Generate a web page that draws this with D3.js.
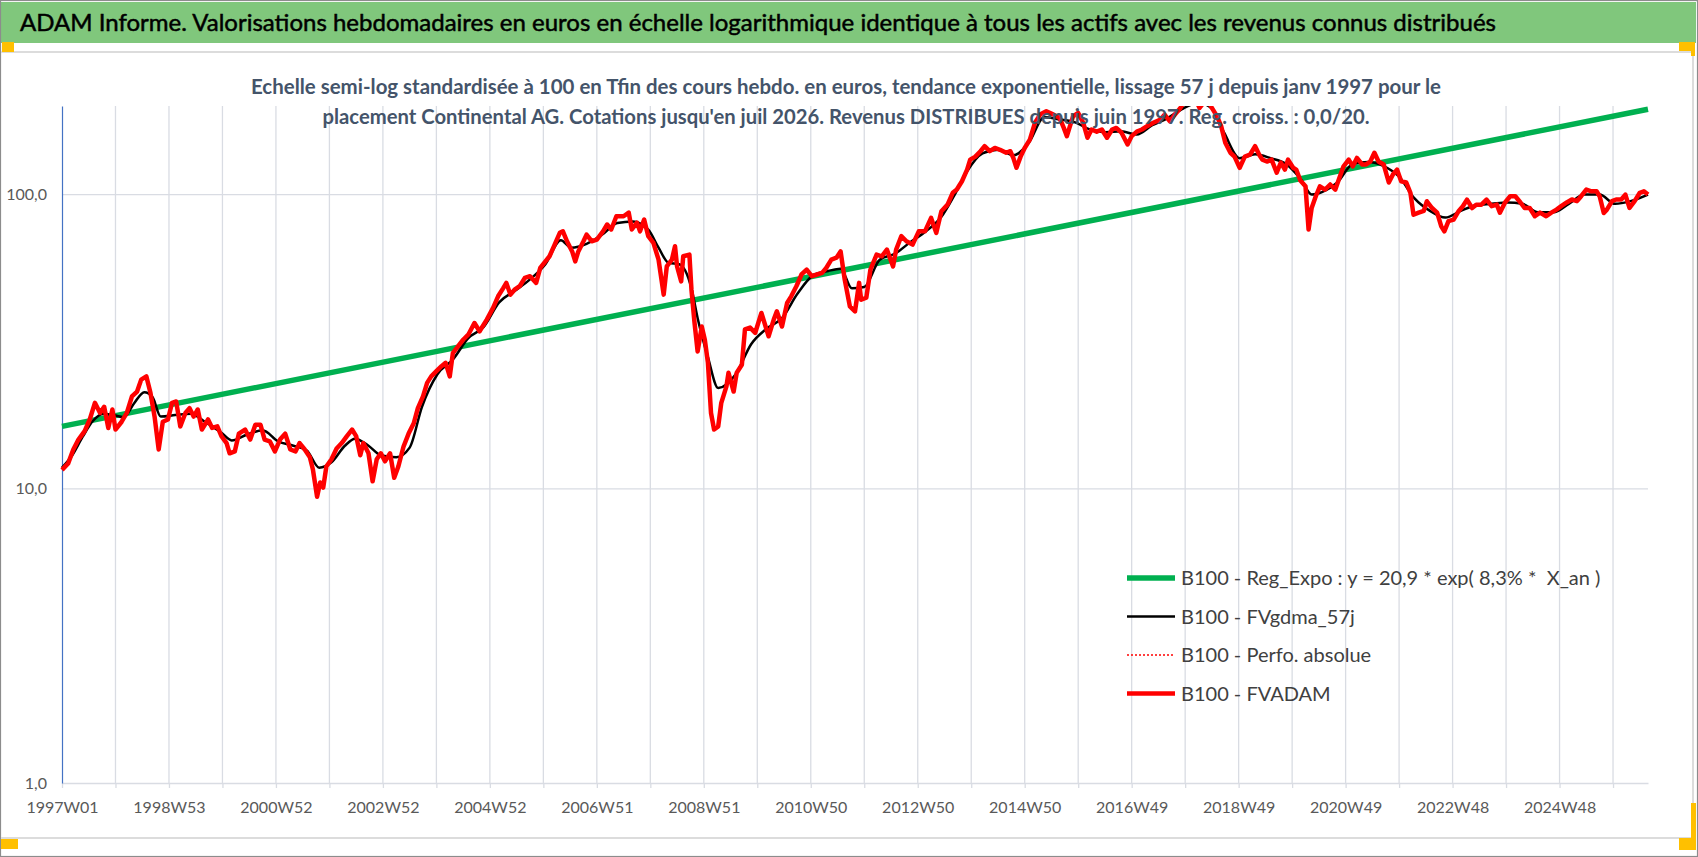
<!DOCTYPE html>
<html>
<head>
<meta charset="utf-8">
<script src="https://cdn.jsdelivr.net/npm/d3@7"></script>
<style>
  html, body { margin: 0; padding: 0; background: #fff; }
  svg { display: block; }
  text { font-family: Lato, "Open Sans", "DejaVu Sans", sans-serif; }
</style>
</head>
<body>
<svg id="chart" width="1698" height="857"></svg>
<script>
// ---------------- DATA ----------------
const titleText = "ADAM Informe. Valorisations hebdomadaires en euros en échelle logarithmique identique à tous les actifs avec les revenus connus distribués";
const subtitleLines = [
  "Echelle semi-log standardisée à 100 en Tfin des cours hebdo. en euros, tendance exponentielle, lissage 57 j depuis janv 1997 pour le",
  "placement Continental AG. Cotations jusqu'en juil 2026. Revenus DISTRIBUES depuis juin 1997. Reg. croiss. : 0,0/20."
];
// week index 0 = 1997W01 ; one category per week
const lastWeek = 1542;
const weekLabels = ["1997W01","1998W53","2000W52","2002W52","2004W52","2006W51","2008W51","2010W50","2012W50","2014W50","2016W49","2018W49","2020W49","2022W48","2024W48"];
const yTicks = [1, 10, 100];
const legendLabels = [
  "B100 - Reg_Expo : y = 20,9 * exp( 8,3% *  X_an )",
  "B100 - FVgdma_57j",
  "B100 - Perfo. absolue",
  "B100 - FVADAM"
];

// Regression (exponential trend, straight on log scale)
const trendWeeks = [0, 1542];
const trendValues = [16.3, 195];

// FVADAM (red)
const redWeeks = [0,6,11,16,22,27,32,37,41,45,49,52,58,63,68,73,77,82,86,90,94,98,103,107,111,115,120,124,128,132,136,142,146,151,155,160,163,168,172,178,183,188,193,197,202,207,212,217,222,227,231,236,241,244,248,251,254,257,262,267,272,277,282,286,290,293,298,302,306,310,314,319,323,327,332,337,342,346,351,355,359,364,369,373,377,380,385,390,395,401,
406,413,419,424,429,432,436,440,445,450,455,461,465,470,474,479,484,487,491,496,499,502,507,510,515,520,526,530,534,539,546,551,554,559,562,566,570,575,580,585,588,593,596,598,602,604,610,612,615,618,622,625,628,631,634,638,641,646,648,653,656,661,664,669,674,680,687,692,695,700,705,709,714,719,724,729,734,739,743,748,753,757,761,766,771,775,
777,782,786,792,797,802,808,811,816,821,827,833,839,845,850,855,861,866,870,875,880,883,888,893,897,902,907,912,918,922,925,928,932,936,941,946,951,957,964,970,974,977,980,983,988,993,997,1001,1006,1011,1016,1021,1025,1030,1036,1040,1045,1050,1055,1061,1068,1072,1077,1082,1087,1093,1100,1106,1113,1118,1123,1127,1131,1136,1140,1145,1150,1155,1160,1164,
1167,1172,1176,1181,1185,1189,1192,1197,1200,1204,1209,1212,1215,1219,1223,1228,1233,1238,1242,1246,1251,1255,1259,1264,1268,1272,1276,1280,1285,1290,1294,1298,1302,1307,1311,1314,1319,1324,1327,1332,1337,1341,1344,1348,1353,1358,1362,1366,1371,1375,1380,1385,1390,1395,1398,1403,1408,1413,1418,1422,1427,1432,1437,1443,1448,1453,1458,1463,1468,1473,1477,1482,1487,1492,1495,1499,1502,1507,1511,1516,1520,1524,1529,1534,1538,1542];
const redValues = [11.6,12.2,13.6,14.7,15.7,17.2,19.6,18.1,19.0,16.1,18.6,15.9,16.9,18.1,20.6,21.4,23.5,24.1,21.2,17.6,13.6,16.9,17.2,19.6,19.8,16.3,18.1,18.8,17.6,18.6,15.9,17.2,16.1,16.3,15.1,14.3,13.2,13.4,15.4,15.9,14.7,16.5,16.5,14.7,14.5,13.4,14.7,15.4,13.6,13.4,14.3,13.6,12.8,11.6,9.4,10.5,10.1,11.9,12.6,13.7,14.3,15.1,15.9,15.1,13.0,14.3,13.2,10.6,12.6,13.2,12.4,13.2,10.9,11.9,13.9,15.4,16.7,18.8,20.6,22.9,24.1,25.1,26.1,26.8,24.1,28.9,30.5,32.1,33.4,36.6,
34.3,37.6,41.1,45.1,48.1,50.1,45.7,47.5,48.8,52.1,52.8,50.1,56.3,59.3,61.7,67.6,74.1,75.0,69.4,64.1,59.3,64.1,69.4,73.1,69.4,70.3,75,79.1,76.1,84.4,84.4,86.8,76.1,80.3,75,82.2,72.2,68.5,60.1,45.7,57.0,60.1,66.7,57.0,50.7,61.7,62.5,47.5,36.6,29.3,35.6,32.1,26.8,18.1,15.9,16.3,19.6,22.3,24.8,21.4,24.8,26.4,34.8,35.3,33.9,39.6,33.0,37.6,40.1,35.6,42.8,45.1,48.8,53.5,55.6,52.8,53.5,54.2,56.3,60.1,61,64.1,51.4,41.7,40.1,50.1,
43.9,44.6,55.6,62.5,61.7,65.0,57.0,65,72.2,69.4,67.6,75,75,83.3,74.1,87.8,92.4,101.4,104,111,121.6,131.5,134.6,140.4,146,140.4,144,142,138.7,140.4,133,123.3,134.6,144,153.8,175.4,187,192,187,182,168.5,158,170.8,184.5,189.5,175,156,166.4,163.6,166.4,156,166.4,168.5,162.5,148,158,163.6,166.4,170.8,175.4,180,187,177.6,187,196,212,218,197,212,197,184.5,170.8,150,138.7,134.6,123.3,134.6,136.6,146,136.6,
131.5,129.5,131.5,118.6,128.5,121.6,131.5,123.3,121.6,111.6,106.7,76.1,90.1,98.7,106.7,104,108.2,104,114,124.8,131.5,124.8,133.2,126.6,126.6,129.5,138.7,129.5,126.6,109.9,117,121.6,111,109.9,101.4,85.4,86.8,88,94.9,90,86.8,78,75,81.2,82.2,88,91.3,96.1,90,92.4,92.4,96.1,91.3,92.4,86.8,94,98.7,98.7,94,90,90,84.4,86.8,84.4,86.8,88.9,91.5,94,96.2,95,98.7,104,102.6,102.6,98.7,86.6,88.9,95,96.2,96.2,100,90.1,95,101.4,102.6,100];

// FVgdma_57j (black smoothed)
const smoothWeeks = [0,10,20,30,40,50,60,70,80,88,96,110,125,140,155,165,180,195,210,225,238,250,262,275,285,298,310,325,338,350,365,380,395,410,425,440,455,470,485,495,510,525,540,555,570,580,590,600,612,618,628,638,655,670,685,700,715,730,745,757,768,780,795,810,825,840,855,868,880,895,910,925,940,955,970,985,1000,1015,1030,1045,1060,1075,1090,1105,1118,1130,1145,1160,1175,1190,1205,1215,1225,1240,1255,1270,1285,1300,1315,1330,1345,1360,1375,1390,1405,1420,1435,1450,1465,1480,1495,1510,1525,1542];
const smoothValues = [11.8,13.0,15.0,17.0,18.0,17.8,17.5,19.5,21.3,20.5,17.6,17.8,18.0,16.8,15.5,14.6,15.3,15.8,14.5,14.0,13.5,11.8,12.3,14.0,14.8,14.0,13.0,12.8,13.8,19.0,24.5,27.5,32.5,35.5,43,47,51.5,58,70,66,68,73,80,81,76,66,58.5,58,48,38,28,22,24.5,31,35,38,46,53,55,56,48,48.5,60,63,69,75,84,100,120,138,142,136,150,183,180,176,166,163,164,160,172,182,196,205,196,162,133,137,133,127,112,100,102,110,127,129,125,115,97,88,83.5,88,92,93,94,93,87,87,93,100,100,93,95,100];

// ---------------- DRAW ----------------
const svg = d3.select("#chart");
const W = 1698, H = 857;
const plot = { left: 62, right: 1648, top: 106, bottom: 783 };

const x = d3.scaleLinear().domain([0, lastWeek]).range([plot.left, plot.right]);
const y = d3.scaleLog().domain([1, 200]).range([plot.bottom, plot.top]);

const gridColor = "#d9dce3";

// frame
svg.append("rect").attr("x", 0).attr("y", 0).attr("width", W).attr("height", H).attr("fill", "#fff");
svg.append("rect").attr("x", 1).attr("y", 2).attr("width", 1695).attr("height", 41).attr("fill", "#80c77c");
svg.append("rect").attr("x", 0.5).attr("y", 0.5).attr("width", W - 1).attr("height", H - 1)
  .attr("fill", "none").attr("stroke", "#8c8c8c").attr("stroke-width", 1.2);
// chart area border
svg.append("path").attr("d", "M1,52H1693V838H1").attr("fill", "none").attr("stroke", "#dcdcdc").attr("stroke-width", 2);

// orange corner marks
const orange = "#ffc000";
[[2, 42, 12, 10], [1, 839, 17, 10], [1679, 42, 16, 9], [1691, 42, 4, 14], [1691, 803, 5, 36], [1679, 838, 17, 12]]
  .forEach(r => svg.append("rect").attr("x", r[0]).attr("y", r[1]).attr("width", r[2]).attr("height", r[3]).attr("fill", orange));

// gridlines
const gridWeeks = d3.range(0, lastWeek + 1, 52);
svg.append("g").selectAll("line").data(gridWeeks.slice(1)).join("line")
  .attr("x1", d => x(d)).attr("x2", d => x(d))
  .attr("y1", plot.top).attr("y2", plot.bottom)
  .attr("stroke", gridColor).attr("stroke-width", 1.3);
svg.append("g").selectAll("line").data(yTicks.slice(1)).join("line")
  .attr("x1", plot.left).attr("x2", plot.right)
  .attr("y1", d => y(d)).attr("y2", d => y(d))
  .attr("stroke", gridColor).attr("stroke-width", 1.3);

// x axis
const xAxis = d3.axisBottom(x)
  .tickValues(gridWeeks)
  .tickSize(5).tickSizeOuter(0).tickPadding(14)
  .tickFormat((d, i) => (i % 2 === 0 ? weekLabels[i / 2] : ""));
const gx = svg.append("g").attr("transform", `translate(0,${plot.bottom})`).call(xAxis);
gx.select(".domain").attr("stroke", gridColor).attr("stroke-width", 1.5);
gx.selectAll(".tick line").attr("stroke", gridColor).attr("stroke-width", 1.3);
gx.selectAll(".tick text").attr("fill", "#595959").attr("font-size", 16).attr("font-family", "Lato, sans-serif");

// y axis
const yAxis = d3.axisLeft(y).tickValues(yTicks).tickSize(0).tickSizeOuter(0).tickPadding(15)
  .tickFormat(d => d.toFixed(1).replace(".", ","));
const gy = svg.append("g").attr("transform", `translate(${plot.left},0)`).call(yAxis);
gy.select(".domain").attr("stroke", "#4472c4").attr("stroke-width", 1.2);
gy.selectAll(".tick text").attr("fill", "#595959").attr("font-size", 16).attr("font-family", "Lato, sans-serif");

// clip
svg.append("clipPath").attr("id", "plotclip").append("rect")
  .attr("x", plot.left - 4).attr("y", plot.top).attr("width", plot.right - plot.left + 12).attr("height", plot.bottom - plot.top);

const series = svg.append("g").attr("clip-path", "url(#plotclip)");
const zip = (ws, vs) => ws.map((w, i) => [w, vs[i]]);
const line = d3.line().x(d => x(d[0])).y(d => y(d[1]));
const smoothLine = d3.line().x(d => x(d[0])).y(d => y(d[1])).curve(d3.curveMonotoneX);

series.append("path").datum(zip(trendWeeks, trendValues)).attr("d", line)
  .attr("fill", "none").attr("stroke", "#00b050").attr("stroke-width", 5.5);
series.append("path").datum(zip(smoothWeeks, smoothValues)).attr("d", smoothLine)
  .attr("fill", "none").attr("stroke", "#000").attr("stroke-width", 2.5);
series.append("path").datum(zip(redWeeks, redValues)).attr("d", line)
  .attr("fill", "none").attr("stroke", "#ff0000").attr("stroke-width", 1.3).attr("stroke-dasharray", "2 2");
series.append("path").datum(zip(redWeeks, redValues)).attr("d", line)
  .attr("fill", "none").attr("stroke", "#ff0000").attr("stroke-width", 4.5).attr("stroke-linejoin", "round");

// legend
const legendStyles = [
  { stroke: "#00b050", width: 5.5, dash: null },
  { stroke: "#000", width: 2.5, dash: null },
  { stroke: "#ff0000", width: 1.5, dash: "2 2" },
  { stroke: "#ff0000", width: 4.5, dash: null }
];
const lg = svg.append("g");
legendLabels.forEach((lab, i) => {
  const cy = 578 + i * 38.5;
  const st = legendStyles[i];
  lg.append("line").attr("x1", 1127).attr("x2", 1175).attr("y1", cy).attr("y2", cy)
    .attr("stroke", st.stroke).attr("stroke-width", st.width).attr("stroke-dasharray", st.dash);
  lg.append("text").attr("x", 1181).attr("y", cy + 7).attr("font-size", 20).attr("fill", "#404040")
    .style("white-space", "pre").text(lab);
});

// subtitle
const subLen = [1190, 1047];
subtitleLines.forEach((s, i) => {
  svg.append("text").attr("x", 846).attr("y", 94 + i * 30).attr("text-anchor", "middle")
    .attr("font-size", 20).attr("font-weight", 700).attr("fill", "#44546a")
    .attr("textLength", subLen[i]).attr("lengthAdjust", "spacingAndGlyphs").text(s);
});

// title
svg.append("text").attr("x", 20).attr("y", 31).attr("font-size", 24).attr("fill", "#000")
  .attr("stroke", "#000").attr("stroke-width", 0.5)
  .attr("textLength", 1476).attr("lengthAdjust", "spacingAndGlyphs").text(titleText);
</script>
</body>
</html>
